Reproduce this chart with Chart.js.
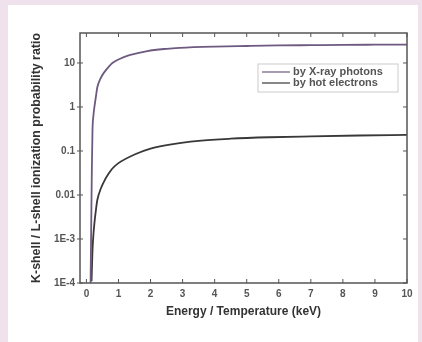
<!DOCTYPE html>
<html>
<head>
<meta charset="utf-8">
<script src="https://cdn.jsdelivr.net/npm/chart.js@4.4.1/dist/chart.umd.min.js"></script>
<style>
    body { margin: 0; background: rgb(240, 226, 236); }
    #sheet { position: absolute; left: 8px; top: 5px; width: 410px; height: 337px; background: #fff; }
    #chart { position: absolute; left: 0; top: 0; }
</style>
</head>
<body>
<div id="sheet"></div>
<canvas id="chart" width="422" height="342"></canvas>
<script>
// values
const photonEnergy = [0.13, 0.15, 0.17, 0.19, 0.22, 0.25, 0.3, 0.34, 0.45, 0.56, 0.7, 0.81, 1.0, 1.34, 1.9, 2.5, 2.9, 4, 5, 6, 7, 8, 9, 10];
const photonRatio = [1e-4, 2e-3, 0.04, 0.3, 0.65, 1.0, 1.8, 2.8, 4.6, 6.2, 8.3, 10, 12, 15, 18.7, 21, 22, 23.5, 24.3, 25, 25.4, 25.8, 26, 26.2];
const electronTemp = [0.16, 0.19, 0.22, 0.25, 0.3, 0.34, 0.45, 0.56, 0.7, 0.81, 1.0, 1.5, 2, 2.6, 3.5, 4.5, 5.7, 7, 8.5, 10];
const electronRatio = [1.1e-4, 5.6e-4, 1.3e-3, 2.3e-3, 4.8e-3, 7.7e-3, 0.014, 0.021, 0.031, 0.04, 0.053, 0.083, 0.113, 0.14, 0.17, 0.19, 0.205, 0.215, 0.225, 0.232];
const seriesNames = ["by X-ray photons", "by hot electrons"];
const yTicks = [1e-4, 1e-3, 0.01, 0.1, 1, 10];
const yTickLabels = ["1E-4", "1E-3", "0.01", "0.1", "1", "10"];

const purple = '#6e5a80';
const dark = '#383838';
const axisColor = '#555';
const fontFamily = '"Liberation Sans", Arial, sans-serif';

function toPoints(xs, ys) {
    return xs.map((x, i) => ({ x: x, y: ys[i] }));
}

// frame with inward ticks on all four sides
const framePlugin = {
    id: 'frame',
    afterDatasetsDraw(chart) {
        const { ctx, chartArea: a, scales } = chart;
        ctx.save();
        ctx.strokeStyle = axisColor;
        ctx.lineWidth = 1.5;
        ctx.strokeRect(a.left, a.top, a.right - a.left, a.bottom - a.top);
        ctx.lineWidth = 1;
        scales.x.ticks.forEach(t => {
            const px = scales.x.getPixelForValue(t.value);
            ctx.beginPath();
            ctx.moveTo(px, a.bottom); ctx.lineTo(px, a.bottom - 4);
            ctx.moveTo(px, a.top); ctx.lineTo(px, a.top + 4);
            ctx.stroke();
        });
        scales.y.ticks.forEach(t => {
            const py = scales.y.getPixelForValue(t.value);
            ctx.beginPath();
            ctx.moveTo(a.left - 3, py); ctx.lineTo(a.left + 3, py);
            ctx.moveTo(a.right, py); ctx.lineTo(a.right - 4, py);
            ctx.stroke();
        });
        ctx.restore();
    }
};

// legend box inside the plot, top right
const insideLegend = {
    id: 'insideLegend',
    afterDraw(chart) {
        const { ctx, chartArea: a } = chart;
        const x0 = a.right - 149, y0 = a.top + 31;
        ctx.save();
        ctx.strokeStyle = '#ccc';
        ctx.lineWidth = 1;
        ctx.strokeRect(x0, y0, 140, 28);
        ctx.font = 'bold 11px ' + fontFamily;
        ctx.textBaseline = 'middle';
        chart.data.datasets.forEach((ds, i) => {
            const y = y0 + 8 + i * 11;
            ctx.strokeStyle = ds.borderColor;
            ctx.lineWidth = 1.2;
            ctx.beginPath();
            ctx.moveTo(x0 + 4, y); ctx.lineTo(x0 + 32, y);
            ctx.stroke();
            ctx.fillStyle = '#555';
            ctx.fillText(ds.label, x0 + 35, y);
        });
        ctx.restore();
    }
};

new Chart("chart", {
    type: "line",
    data: {
        datasets: [{
            label: seriesNames[0],
            data: toPoints(photonEnergy, photonRatio),
            borderColor: purple,
            borderWidth: 1.8,
            pointRadius: 0,
            cubicInterpolationMode: 'monotone'
        }, {
            label: seriesNames[1],
            data: toPoints(electronTemp, electronRatio),
            borderColor: dark,
            borderWidth: 1.8,
            pointRadius: 0,
            cubicInterpolationMode: 'monotone'
        }]
    },
    options: {
        responsive: false,
        animation: false,
        layout: { padding: { top: 33, right: 15, left: 0, bottom: 0 } },
        plugins: {
            legend: { display: false },
            tooltip: { enabled: false }
        },
        scales: {
            x: {
                type: 'linear',
                min: -0.2,
                max: 10,
                afterBuildTicks: scale => {
                    scale.ticks = [0, 1, 2, 3, 4, 5, 6, 7, 8, 9, 10].map(v => ({ value: v }));
                },
                afterFit: scale => { scale.height = 342 - 283; },
                grid: { display: false, drawTicks: false },
                border: { display: false },
                ticks: {
                    padding: 5,
                    color: '#555',
                    font: { size: 10, weight: 'bold', family: fontFamily },
                    maxRotation: 0
                },
                title: {
                    display: true,
                    text: 'Energy / Temperature (keV)',
                    color: '#333',
                    padding: { top: 0, bottom: 23 },
                    font: { size: 12, weight: 'bold', family: fontFamily }
                }
            },
            y: {
                type: 'logarithmic',
                min: 1e-4,
                max: 48,
                afterBuildTicks: scale => {
                    scale.ticks = yTicks.map(v => ({ value: v }));
                },
                afterFit: scale => { scale.width = 80; },
                grid: { display: false, drawTicks: false },
                border: { display: false },
                ticks: {
                    padding: 5,
                    color: '#555',
                    font: { size: 10, weight: 'bold', family: fontFamily },
                    callback: (v) => yTickLabels[yTicks.indexOf(v)]
                },
                title: {
                    display: true,
                    text: 'K-shell / L-shell ionization probability ratio',
                    color: '#333',
                    padding: { top: 29, bottom: 0 },
                    font: { size: 12.4, weight: 'bold', family: fontFamily }
                }
            }
        }
    },
    plugins: [framePlugin, insideLegend]
});
</script>
</body>
</html>
